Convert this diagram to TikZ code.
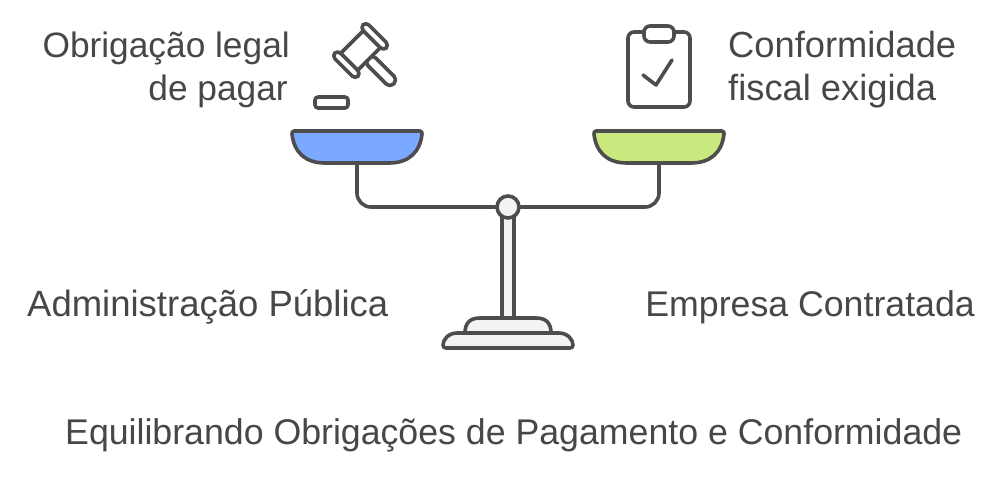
\documentclass[tikz,border=0pt]{standalone}
\usepackage{fontspec}
\setmainfont{Liberation Sans}
\definecolor{ink}{HTML}{4D4D4D}
\definecolor{txt}{HTML}{474747}
\definecolor{pale}{HTML}{F3F3F3}
\definecolor{bluepan}{HTML}{7BA9FF}
\definecolor{greenpan}{HTML}{C9E97F}
\tikzset{
  ln/.style={draw=ink,line width=3.6pt,line join=round,line cap=round},
  lbl/.style={inner sep=0pt,text=txt,font=\fontsize{#1pt}{44pt}\selectfont},
  lbl/.default=35.6,
}
\begin{document}
\begin{tikzpicture}[x=1pt,y=-1pt]
\useasboundingbox[fill=white] (0,0) rectangle (1005,477);
% pans
\path[ln,fill=bluepan] (294,131) -- (420,131) .. controls (422,131) and (422,133) .. (422,134) .. controls (420,152) and (409,163) .. (389,163) -- (325,163) .. controls (305,163) and (294,152) .. (292,134) .. controls (292,133) and (292,131) .. (294,131) -- cycle;
\path[ln,fill=greenpan] (596,131) -- (722,131) .. controls (724,131) and (724,133) .. (724,134) .. controls (722,152) and (711,163) .. (691,163) -- (627,163) .. controls (607,163) and (596,152) .. (594,134) .. controls (594,133) and (594,131) .. (596,131) -- cycle;
% beam
\draw[ln,rounded corners=14pt] (357,164) -- (357,207) -- (659,207) -- (659,164);
% base and column
\path[ln,fill=pale] (502,215) rectangle (514,318);
\path[ln,fill=pale] (465,333) .. controls (465,323) and (470,318) .. (480,318) -- (536,318) .. controls (546,318) and (551,323) .. (551,333) -- cycle;
\path[ln,fill=pale] (457,333) -- (559,333) .. controls (568,333) and (573,340) .. (573,345) .. controls (573,347) and (572,348) .. (570,348) -- (446,348) .. controls (444,348) and (443,347) .. (443,345) .. controls (443,340) and (448,333) .. (457,333) -- cycle;
\path[ln,fill=pale] (508,207) circle (11);
% gavel
\begin{scope}[shift={(360.5,50.5)},rotate=45]
  \path[ln,fill=white,rounded corners=5pt] (-5.5,11) rectangle (5.5,47);
  \path[ln,fill=white,rounded corners=1pt] (-16,-12) rectangle (16,12);
  \path[ln,fill=white,rounded corners=4.5pt] (-24,-16.5) rectangle (-16,16.5);
  \path[ln,fill=white,rounded corners=4.5pt] (16,-16.5) rectangle (24,16.5);
\end{scope}
\path[ln,fill=white,rounded corners=3pt] (315,97) rectangle (348,108);
% clipboard
\path[ln,fill=white,rounded corners=6pt] (628,32) rectangle (690,107);
\path[ln,fill=white,rounded corners=6pt] (644,26) rectangle (674,42);
\draw[ln] (643,75) -- (656,85) -- (672,60);
% labels
\node[lbl=35.3,anchor=base east] (a1) at (290,57) {Obrigação legal};
\node[lbl=35.3,anchor=base east] (a2) at (288,100) {de pagar};
\node[lbl=36.3,anchor=base west] (b1) at (728,57) {Conformidade};
\node[lbl=36.3,anchor=base west] (b2) at (728,100) {fiscal exigida};
\node[lbl=36.5,anchor=base west] (c) at (27,316) {Administração Pública};
\node[lbl=35.7,anchor=base east] (d) at (975,316) {Empresa Contratada};
\node[lbl=35.7,anchor=base west] (e) at (65,444) {Equilibrando Obrigações de Pagamento e Conformidade};
\end{tikzpicture}
\end{document}
